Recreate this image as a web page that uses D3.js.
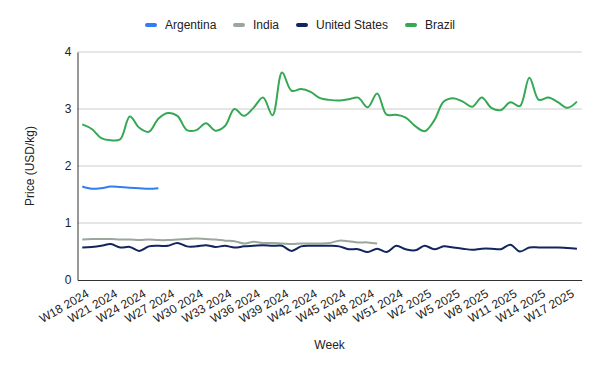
<!DOCTYPE html>
<html>
<head>
  <meta charset="utf-8">
  <title>Price by week</title>
  <script src="https://d3js.org/d3.v7.min.js"></script>
  <style>
    body { margin: 0; background: #fff; }
    text { font-family: "Liberation Sans", Arial, sans-serif; fill: #222; }
  </style>
</head>
<body>
  <script>
    // weeks W18 2024 .. W18 2025
    var weeks = [];
    for (var w = 18; w <= 52; w++) weeks.push('W' + w + ' 2024');
    for (var w2 = 1; w2 <= 18; w2++) weeks.push('W' + w2 + ' 2025');

    var argentina = [1.64, 1.60, 1.61, 1.64, 1.63, 1.62, 1.61, 1.60, 1.61];

    var india = [0.71, 0.72, 0.72, 0.72, 0.71, 0.71, 0.70, 0.71, 0.70, 0.70,
                 0.71, 0.72, 0.73, 0.72, 0.71, 0.69, 0.68, 0.64, 0.67, 0.65,
                 0.65, 0.64, 0.63, 0.64, 0.64, 0.64, 0.65, 0.69, 0.68, 0.66,
                 0.66, 0.64];

    var unitedStates = [0.57, 0.58, 0.60, 0.63, 0.57, 0.58, 0.51, 0.59, 0.60, 0.60,
                        0.65, 0.59, 0.59, 0.61, 0.58, 0.60, 0.57, 0.59, 0.60, 0.61,
                        0.60, 0.60, 0.51, 0.59, 0.60, 0.60, 0.60, 0.59, 0.54, 0.54,
                        0.49, 0.55, 0.49, 0.60, 0.54, 0.52, 0.60, 0.54, 0.59, 0.57,
                        0.55, 0.53, 0.55, 0.55, 0.54, 0.62, 0.50, 0.57, 0.57, 0.57,
                        0.57, 0.56, 0.55];

    var brazil = [2.73, 2.65, 2.49, 2.45, 2.47, 2.87, 2.67, 2.60, 2.83, 2.93,
                  2.88, 2.63, 2.63, 2.75, 2.62, 2.70, 3.00, 2.88, 3.02, 3.20,
                  2.89, 3.64, 3.32, 3.35, 3.30, 3.19, 3.16, 3.15, 3.17, 3.20,
                  3.03, 3.27, 2.90, 2.90, 2.85, 2.70, 2.61, 2.80, 3.13, 3.19,
                  3.13, 3.04, 3.20, 3.02, 2.98, 3.12, 3.05, 3.55, 3.16, 3.20,
                  3.12, 3.02, 3.13];

    var yTicks = [0, 1, 2, 3, 4];

    var series = [
      { name: 'Argentina', color: '#2f7ef5', values: argentina },
      { name: 'India', color: '#9aa79c', values: india },
      { name: 'United States', color: '#12265e', values: unitedStates },
      { name: 'Brazil', color: '#34a853', values: brazil }
    ];

    var width = 600, height = 371;
    var margin = { top: 52, right: 18.3, bottom: 91, left: 77.5 };

    var svg = d3.select('body').append('svg')
      .attr('width', width)
      .attr('height', height);

    var x = d3.scalePoint()
      .domain(weeks)
      .range([margin.left, width - margin.right])
      .padding(0.5);

    var y = d3.scaleLinear()
      .domain([0, 4])
      .range([height - margin.bottom, margin.top]);

    // gridlines
    svg.append('g')
      .selectAll('line')
      .data(yTicks.filter(function(d) { return d > 0; }))
      .enter().append('line')
      .attr('x1', margin.left)
      .attr('x2', width - margin.right)
      .attr('y1', function(d) { return y(d); })
      .attr('y2', function(d) { return y(d); })
      .attr('stroke', '#cccccc')
      .attr('stroke-width', 1);

    // y axis
    var yAxis = svg.append('g')
      .attr('transform', 'translate(' + margin.left + ',0)')
      .call(d3.axisLeft(y).tickValues(yTicks).tickSize(0).tickPadding(6)
        .tickFormat(d3.format('d')));
    yAxis.select('.domain').attr('stroke', '#333');
    yAxis.selectAll('text').style('font-size', '12px').attr('fill', '#222');

    // x axis
    var xAxis = svg.append('g')
      .attr('transform', 'translate(0,' + y(0) + ')')
      .call(d3.axisBottom(x).tickSize(0)
        .tickValues(weeks.filter(function(d, i) { return i % 3 === 0 && i < 52; })));
    xAxis.select('.domain').attr('stroke', '#333');
    xAxis.selectAll('text')
      .style('font-size', '12px')
      .attr('fill', '#222')
      .attr('text-anchor', 'end')
      .attr('dy', null)
      .attr('y', 0)
      .attr('transform', 'translate(7,16) rotate(-30)');

    // lines
    var line = d3.line()
      .x(function(d, i) { return x(weeks[i]); })
      .y(function(d) { return y(d); })
      .curve(d3.curveCatmullRom.alpha(0.5));

    svg.append('g')
      .selectAll('path')
      .data(series)
      .enter().append('path')
      .attr('d', function(s) { return line(s.values); })
      .attr('fill', 'none')
      .attr('stroke', function(s) { return s.color; })
      .attr('stroke-width', 2)
      .attr('stroke-linejoin', 'round');

    // legend
    var legendX = [145, 233, 296, 405];
    var legend = svg.append('g')
      .selectAll('g')
      .data(series)
      .enter().append('g')
      .attr('transform', function(d, i) { return 'translate(' + legendX[i] + ',25)'; });
    legend.append('rect')
      .attr('x', 0).attr('y', -2)
      .attr('width', 12).attr('height', 4)
      .attr('rx', 2)
      .attr('fill', function(d) { return d.color; });
    legend.append('text')
      .attr('x', 20)
      .attr('dy', '0.35em')
      .style('font-size', '12px')
      .text(function(d) { return d.name; });

    // axis titles
    svg.append('text')
      .attr('x', (margin.left + width - margin.right) / 2)
      .attr('y', 345)
      .attr('dy', '0.35em')
      .attr('text-anchor', 'middle')
      .style('font-size', '12px')
      .text('Week');

    svg.append('text')
      .attr('transform', 'translate(30,' + y(2) + ') rotate(-90)')
      .attr('dy', '0.35em')
      .attr('text-anchor', 'middle')
      .style('font-size', '12px')
      .text('Price (USD/kg)');
  </script>
</body>
</html>
